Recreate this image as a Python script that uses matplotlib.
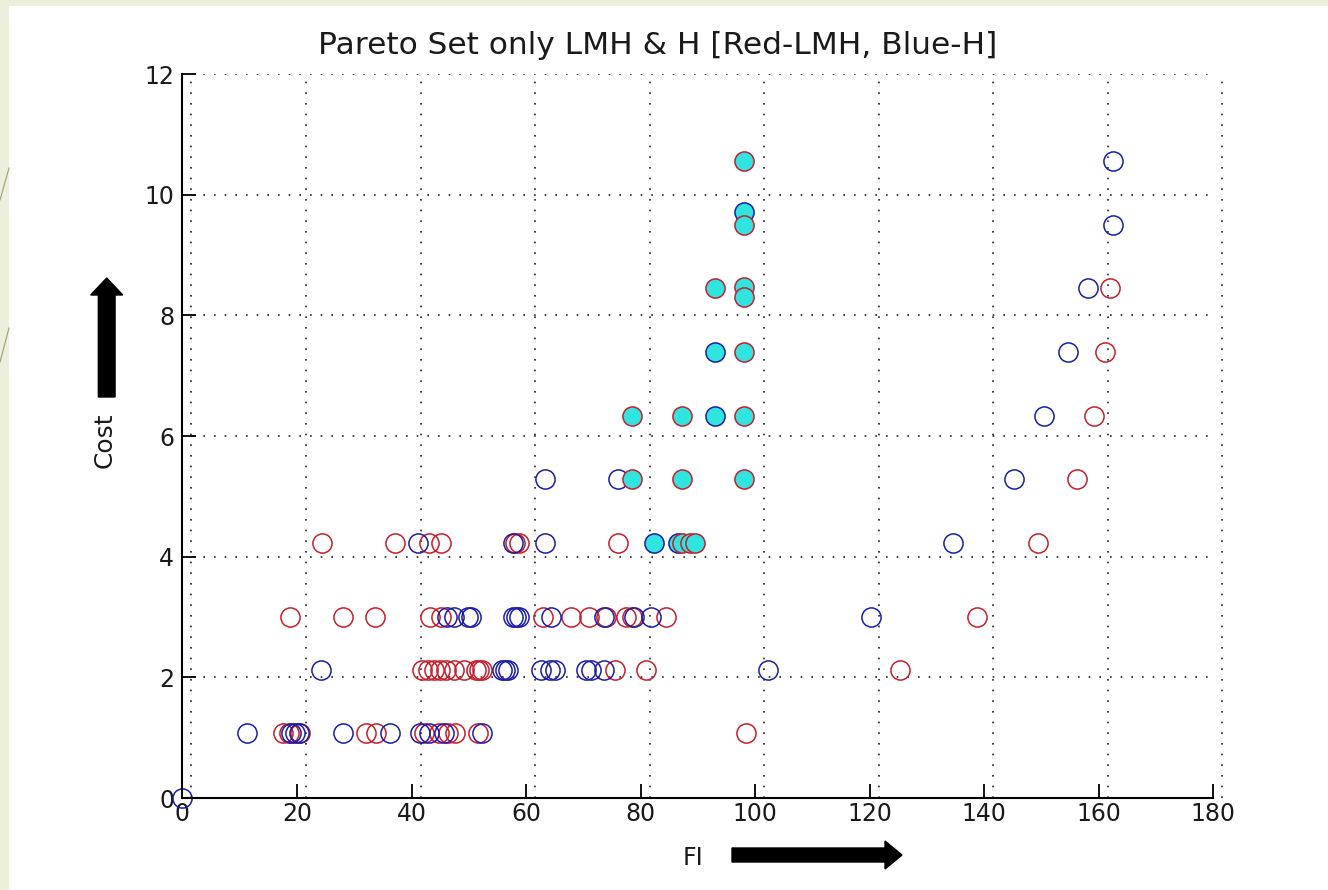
import matplotlib
matplotlib.use("Agg")
import matplotlib.pyplot as plt
from matplotlib.patches import FancyArrow, Rectangle
from matplotlib.lines import Line2D
from matplotlib.transforms import ScaledTranslation

# ---- data: Pareto front points (FI vs Cost) ----
# LMH set (red open circles)
lmh_fi = [17.6, 18.6, 20.6, 32.0, 33.8, 42.2, 44.8, 46.4, 47.6, 51.6, 98.4,
          41.8, 42.8, 43.9, 44.9, 46.0, 47.4, 49.1, 51.2, 51.8, 52.4, 75.6, 80.9, 125.4,
          18.8, 28.1, 33.7, 43.3, 45.1, 62.9, 67.8, 71.0, 73.9, 77.5, 78.6, 84.4, 138.7,
          24.4, 37.2, 43.0, 45.1, 58.1, 58.7, 76.0, 149.5,
          156.2, 159.2, 161.2, 162.0]
lmh_cost = [1.08] * 11 + [2.12] * 13 + [3.0] * 13 + [4.23] * 8 + [5.29, 6.33, 7.39, 8.45]

# H set (blue open circles)
h_fi = [0.0,
        11.2, 18.9, 19.6, 20.3, 28.1, 36.3, 41.5, 43.0, 45.7, 52.3,
        24.2, 55.8, 56.3, 56.8, 62.7, 64.2, 65.1, 70.5, 71.3, 73.6, 102.2,
        46.2, 47.4, 49.8, 50.4, 57.8, 58.3, 58.8, 64.4, 73.6, 78.9, 81.9, 120.3,
        41.1, 57.8, 63.4, 134.5,
        63.4, 76.0, 145.3,
        150.5, 154.6, 158.2, 162.6, 162.6]
h_cost = [0.0] + [1.08] * 10 + [2.12] * 11 + [3.0] * 12 + [4.23] * 4 + [5.29] * 3 + \
         [6.33, 7.39, 8.45, 9.49, 10.55]

# points shared by both sets (cyan filled), edge colour by set
shared_h_fi = [82.3, 86.6, 93.1, 93.1, 98.0]
shared_h_cost = [4.23, 4.23, 6.33, 7.39, 9.71]
shared_lmh_fi = [87.3, 88.6, 89.6, 78.5, 87.2, 98.0, 78.5, 87.2, 98.0,
                 98.0, 93.1, 98.0, 98.0, 98.0, 98.0]
shared_lmh_cost = [4.23, 4.23, 4.23, 5.29, 5.29, 5.29, 6.33, 6.33, 6.33,
                   7.39, 8.45, 8.47, 8.31, 9.49, 10.55]

x_ticks = [0, 20, 40, 60, 80, 100, 120, 140, 160, 180]
y_ticks = [0, 2, 4, 6, 8, 10, 12]

RED = "#c41f2c"
BLUE = "#1c1ca8"
CYAN = "#30e4e0"
TEXT = "#1a1a1a"
FONT = "DejaVu Sans"

W, H = 1328, 890
fig = plt.figure(figsize=(W / 100, H / 100), dpi=100)
fig.patch.set_facecolor("#ecefdb")
# white slide panel
fig.patches.append(Rectangle((9 / W, 0), 1, 1 - 6 / H, transform=fig.transFigure,
                             facecolor="white", edgecolor="none", zorder=-5))
# thin decorative strokes on the left border
for (x0, y0, x1, y1) in [(0, 200, 9, 168), (0, 362, 9, 328)]:
    fig.lines.append(Line2D([x0 / W, x1 / W], [1 - y0 / H, 1 - y1 / H],
                            transform=fig.transFigure, color="#a49c78", lw=0.8,
                            zorder=-4))

ax = fig.add_axes([182.5 / W, 1 - 798 / H, (1213 - 182.5) / W, (798 - 74) / H])
ax.set_zorder(2)
ax.patch.set_alpha(0)
ax.set_xlim(0, 180)
ax.set_ylim(0, 12)

grid_style = dict(color="#222222", lw=1.2, linestyle=(0, (1, 5.4)), zorder=1)
for t in y_ticks[1:]:
    ax.axhline(t, **grid_style)
shift = ScaledTranslation(9 / 100, 0, fig.dpi_scale_trans)
for t in x_ticks:
    ln = ax.axvline(t, **grid_style)
    ln.set_transform(ln.get_transform() + shift)
    ln.set_clip_on(False)

ms, mew = 13.8, 1.1
ax.plot(lmh_fi, lmh_cost, linestyle="none", marker="o", ms=ms, mew=mew,
        mfc="none", mec=RED, zorder=3)
ax.plot(h_fi, h_cost, linestyle="none", marker="o", ms=ms, mew=mew,
        mfc="none", mec=BLUE, zorder=3, clip_on=False)
ax.plot(shared_h_fi, shared_h_cost, linestyle="none", marker="o", ms=ms, mew=mew,
        mfc=CYAN, mec=BLUE, zorder=4)
ax.plot(shared_lmh_fi, shared_lmh_cost, linestyle="none", marker="o", ms=ms, mew=mew,
        mfc=CYAN, mec=RED, zorder=5)

for side in ("top", "right"):
    ax.spines[side].set_visible(False)
for side in ("left", "bottom"):
    ax.spines[side].set_linewidth(1.5)
    ax.spines[side].set_color("black")
    ax.spines[side].set_zorder(6)

ax.set_xticks(x_ticks)
ax.set_yticks(y_ticks)
ax.set_xticklabels([str(v) for v in x_ticks], fontsize=17, family=FONT, color=TEXT)
ax.set_yticklabels([str(v) for v in y_ticks], fontsize=17, family=FONT, color=TEXT)
ax.tick_params(direction="in", length=10, width=1.3, pad=3)
ax.tick_params(axis="y", pad=6)

fig.text(658 / W, 1 - 46 / H, "Pareto Set only LMH & H [Red-LMH, Blue-H]",
         ha="center", va="center", fontsize=22.5, family=FONT, color=TEXT)
fig.text(693 / W, 1 - 858 / H, "FI", ha="center", va="center",
         fontsize=17, family=FONT, color=TEXT)
fig.text(105 / W, 1 - 440 / H, "Cost", ha="center", va="center", rotation=90,
         fontsize=18, family=FONT, color=TEXT)

# direction arrows beside the axis labels
fig.patches.append(FancyArrow(1.067, (H - 397) / 100, 0, 1.19, width=0.167,
                              head_width=0.32, head_length=0.17,
                              length_includes_head=True, color="black",
                              transform=fig.dpi_scale_trans))
fig.patches.append(FancyArrow(7.32, (H - 855) / 100, 1.70, 0, width=0.14,
                              head_width=0.28, head_length=0.17,
                              length_includes_head=True, color="black",
                              transform=fig.dpi_scale_trans))

fig.savefig("out.png", dpi=100, facecolor=fig.get_facecolor())
